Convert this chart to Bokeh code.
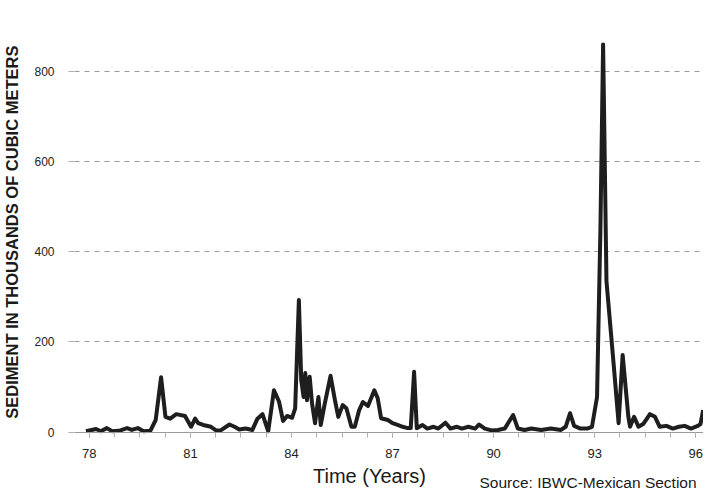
from bokeh.plotting import figure
from bokeh.models import Range1d, FixedTicker, Label
from bokeh.embed import file_html
from bokeh.resources import INLINE

# Time in years (19xx, decimal)
years = [77.90, 78.20, 78.34, 78.52, 78.68, 78.88, 79.12, 79.26, 79.44, 79.61,
         79.81, 79.97, 80.13, 80.26, 80.40, 80.58, 80.84, 81.02, 81.14, 81.23,
         81.38, 81.61, 81.76, 81.90, 82.16, 82.31, 82.45, 82.64, 82.84, 82.99,
         83.14, 83.31, 83.48, 83.63, 83.75, 83.87, 84.02, 84.11, 84.22, 84.29,
         84.36, 84.41, 84.46, 84.54, 84.61, 84.70, 84.80, 84.87, 84.99, 85.16,
         85.29, 85.39, 85.52, 85.63, 85.78, 85.88, 86.01, 86.12, 86.27, 86.46,
         86.56, 86.66, 86.86, 87.00, 87.15, 87.30, 87.45, 87.54, 87.64, 87.72,
         87.89, 88.03, 88.22, 88.36, 88.57, 88.72, 88.91, 89.06, 89.25, 89.45,
         89.57, 89.74, 89.94, 90.13, 90.33, 90.58, 90.72, 90.92, 91.12, 91.41,
         91.70, 92.00, 92.14, 92.27, 92.39, 92.58, 92.78, 92.92, 93.07, 93.17,
         93.25, 93.35, 93.56, 93.71, 93.83, 94.00, 94.05, 94.17, 94.30, 94.44,
         94.64, 94.79, 94.93, 95.13, 95.32, 95.50, 95.67, 95.86, 96.06, 96.14,
         96.22]
# Sediment, thousands of cubic meters
sediment = [2, 7, 2, 9, 2, 3, 9, 5, 9, 2,
            3, 27, 122, 34, 30, 40, 36, 12, 30, 20,
            16, 12, 4, 4, 17, 12, 6, 8, 5, 30,
            40, 2, 93, 68, 25, 36, 32, 53, 293, 115,
            78, 131, 71, 123, 64, 20, 78, 16, 64, 125,
            71, 34, 60, 53, 12, 12, 49, 67, 58, 93,
            75, 31, 27, 20, 16, 12, 9, 9, 134, 9,
            16, 8, 12, 8, 21, 8, 12, 8, 12, 8,
            17, 8, 4, 5, 8, 38, 8, 5, 8, 5,
            8, 5, 12, 42, 14, 8, 8, 12, 78, 449,
            860, 335, 153, 20, 171, 34, 12, 34, 12, 18,
            40, 34, 12, 14, 8, 12, 14, 8, 14, 18,
            49]

x_ticks = [78, 81, 84, 87, 90, 93, 96]
x_minor = [78 + 0.75 * k for k in range(25)]
y_ticks = [0, 200, 400, 600, 800]

p = figure(width=703, height=490, output_backend="svg", toolbar_location=None,
           x_range=Range1d(77.56, 96.23), y_range=Range1d(-129.3, 864),
           min_border_left=67, min_border_right=0, min_border_top=42,
           min_border_bottom=0)
p.outline_line_color = None
p.background_fill_color = "white"
p.border_fill_color = "white"

p.line(years, sediment, line_color="#1e1e1e", line_width=4, line_join="round")

p.xaxis.fixed_location = 0
p.xaxis.ticker = FixedTicker(ticks=x_ticks, minor_ticks=x_minor)
p.yaxis.ticker = FixedTicker(ticks=y_ticks)

p.xgrid.grid_line_color = None
p.ygrid.grid_line_color = "#9a9a9a"
p.ygrid.grid_line_dash = "5 5"
p.ygrid.grid_line_width = 1

for ax in (p.xaxis[0], p.yaxis[0]):
    ax.major_label_text_font = "Liberation Sans"
    ax.major_label_text_color = "#222222"
    ax.major_tick_line_color = "#b0b0b0"
    ax.minor_tick_line_color = "#b0b0b0"
    ax.major_tick_in = 0
    ax.minor_tick_in = 0

p.xaxis.axis_line_color = "#9a9a9a"
p.xaxis.major_tick_out = 5
p.xaxis.minor_tick_out = 5
p.xaxis.major_label_text_font_size = "13px"
p.xaxis.major_label_standoff = 12

yax = p.yaxis[0]
yax.axis_line_color = None
yax.major_tick_out = 6
yax.minor_tick_line_color = None
yax.major_label_text_font_size = "12px"
yax.major_label_standoff = 14
# leading no-break spaces shift the centred label up to where the reference has it
yax.axis_label = "\u00a0" * 15 + "SEDIMENT IN THOUSANDS OF CUBIC METERS"
yax.axis_label_text_font = "Liberation Sans"
yax.axis_label_text_font_style = "bold"
yax.axis_label_text_font_size = "16.5px"
yax.axis_label_text_color = "#1a1a1a"
yax.axis_label_standoff = 10

p.add_layout(Label(x=295, y=15, x_units="screen", y_units="screen",
                   text="Time (Years)", text_align="center",
                   text_baseline="alphabetic", text_font="Liberation Sans",
                   text_font_size="20px", text_color="#1a1a1a"))
p.add_layout(Label(x=405, y=8, x_units="screen", y_units="screen",
                   text="Source: IBWC-Mexican Section", text_align="left",
                   text_baseline="alphabetic", text_font="Liberation Sans",
                   text_font_size="15.5px", text_color="#1a1a1a"))

open("out.html", "w").write(file_html(p, INLINE))
